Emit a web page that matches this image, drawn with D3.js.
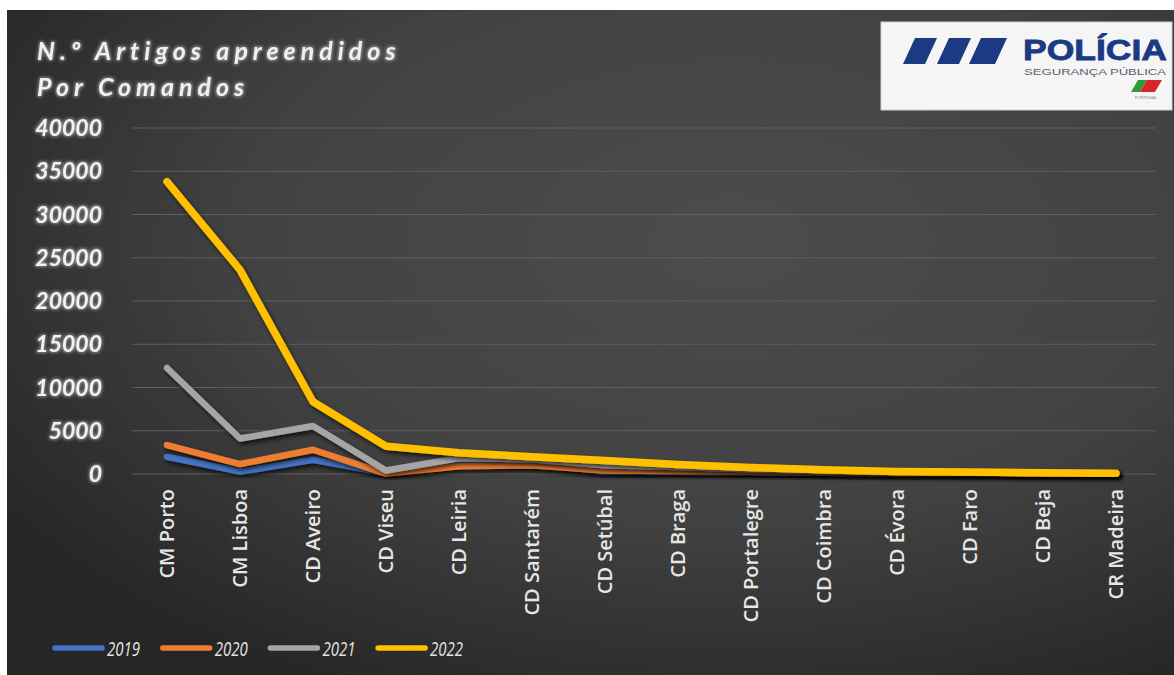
<!DOCTYPE html>
<html>
<head>
<meta charset="utf-8">
<script src="https://cdn.jsdelivr.net/npm/d3@7"></script>
<style>
  html, body { margin: 0; padding: 0; background: #ffffff; }
  svg { display: block; }
</style>
</head>
<body>
<svg id="chart"></svg>
<script>
var categories = ["CM Porto", "CM Lisboa", "CD Aveiro", "CD Viseu", "CD Leiria", "CD Santarém", "CD Setúbal",
  "CD Braga", "CD Portalegre", "CD Coimbra", "CD Évora", "CD Faro", "CD Beja", "CR Madeira"];
var years = ["2019", "2020", "2021", "2022"];
var v2019 = [2000, 270, 1650, 100, 1400, 1300, 250, 250, 200, 150, 100, 80, 50, 30];
var v2020 = [3350, 1150, 2800, 50, 900, 1000, 400, 350, 250, 150, 100, 80, 50, 30];
var v2021 = [12250, 4100, 5550, 400, 1850, 1700, 1000, 800, 550, 350, 200, 150, 100, 50];
var v2022 = [33800, 23600, 8350, 3200, 2450, 2000, 1550, 1100, 750, 480, 280, 220, 150, 100];
var yTicks = [0, 5000, 10000, 15000, 20000, 25000, 30000, 35000, 40000];
var colors = ["#4472c4", "#ed7d31", "#a5a5a5", "#ffc000"];

var W = 1174, H = 675;
var svg = d3.select("#chart").attr("width", W).attr("height", H);
var defs = svg.append("defs");

var bg = defs.append("radialGradient").attr("id", "bg")
  .attr("cx", "62%").attr("cy", "35%").attr("r", "75%");
bg.selectAll("stop")
  .data([{o: "0%", c: "#4c4c4c"}, {o: "55%", c: "#424242"}, {o: "100%", c: "#262626"}])
  .enter().append("stop")
  .attr("offset", function(d) { return d.o; })
  .attr("stop-color", function(d) { return d.c; });

var shadow = defs.append("filter").attr("id", "shadow")
  .attr("x", "-10%").attr("y", "-10%").attr("width", "130%").attr("height", "130%");
shadow.append("feDropShadow").attr("dx", 2).attr("dy", 3).attr("stdDeviation", 2)
  .attr("flood-color", "#000").attr("flood-opacity", 0.7);

var glow = defs.append("filter").attr("id", "glow")
  .attr("x", "-10%").attr("y", "-30%").attr("width", "120%").attr("height", "160%");
glow.append("feMorphology").attr("in", "SourceAlpha").attr("operator", "dilate").attr("radius", 0.6).attr("result", "d");
glow.append("feGaussianBlur").attr("in", "d").attr("stdDeviation", 1.4).attr("result", "b");
glow.append("feFlood").attr("flood-color", "#ffffff").attr("flood-opacity", 0.4);
glow.append("feComposite").attr("in2", "b").attr("operator", "in").attr("result", "g");
var gm = glow.append("feMerge");
gm.append("feMergeNode").attr("in", "g");
gm.append("feMergeNode").attr("in", "SourceGraphic");

svg.append("rect").attr("x", 7).attr("y", 10).attr("width", W - 7).attr("height", H - 10)
  .attr("fill", "url(#bg)");

var x = d3.scalePoint().domain(categories).range([130.5, 1152.5]).padding(0.5);
var y = d3.scaleLinear().domain([0, 40000]).range([474, 128]);

// gridlines
svg.append("g").selectAll("line").data(yTicks).enter().append("line")
  .attr("x1", 132).attr("x2", 1156)
  .attr("y1", function(d) { return y(d); }).attr("y2", function(d) { return y(d); })
  .attr("stroke", "#5e5e5e").attr("stroke-width", 1.2);

// y axis labels
svg.append("g").selectAll("text").data(yTicks).enter().append("text")
  .attr("x", 102).attr("y", function(d) { return y(d) + 8; })
  .attr("text-anchor", "end")
  .attr("font-family", "Lato, sans-serif").attr("font-weight", "bold").attr("font-style", "italic")
  .attr("font-size", 23).attr("fill", "#f2f2f2").attr("filter", "url(#glow)")
  .text(function(d) { return d; });

// x axis labels
svg.append("g").selectAll("text").data(categories).enter().append("text")
  .attr("transform", function(d) { return "translate(" + (x(d) + 7) + ",489) rotate(-90)"; })
  .attr("text-anchor", "end")
  .attr("font-family", "'Open Sans', sans-serif").attr("font-weight", 600)
  .attr("font-size", 20).attr("fill", "#e6e6e6")
  .text(function(d) { return d; });

// lines
var series = [v2019, v2020, v2021, v2022];
var line = d3.line()
  .x(function(d, i) { return x(categories[i]); })
  .y(function(d) { return y(d); });

svg.append("g").selectAll("path").data(series).enter().append("path")
  .attr("d", line)
  .attr("fill", "none")
  .attr("stroke", function(d, i) { return colors[i]; })
  .attr("stroke-width", function(d, i) { return i == 3 ? 7.5 : 6.5; })
  .attr("stroke-linecap", "round").attr("stroke-linejoin", "round")
  .attr("filter", "url(#shadow)");

// title
var title = svg.append("text")
  .attr("font-family", "Lato, sans-serif").attr("font-weight", "bold").attr("font-style", "italic")
  .attr("font-size", 25).attr("letter-spacing", 5).attr("fill", "#f0f0f0").attr("filter", "url(#glow)");
title.append("tspan").attr("x", 37).attr("y", 60).text("N.º Artigos apreendidos");
title.append("tspan").attr("x", 37).attr("y", 96).text("Por Comandos");

// legend
var legend = svg.append("g").selectAll("g").data(years).enter().append("g")
  .attr("transform", function(d, i) { return "translate(" + (55 + i * 107.7) + ",648)"; });
legend.append("line").attr("x1", 0).attr("x2", 47).attr("y1", 0).attr("y2", 0)
  .attr("stroke", function(d, i) { return colors[i]; })
  .attr("stroke-width", 5.5).attr("stroke-linecap", "round");
legend.append("text").attr("x", 52).attr("y", 8)
  .attr("font-family", "'Open Sans', sans-serif").attr("font-style", "italic")
  .attr("font-size", 20).attr("fill", "#e4e4e4")
  .attr("textLength", 33).attr("lengthAdjust", "spacingAndGlyphs")
  .text(function(d) { return d; });

// logo
var logo = svg.append("g");
logo.append("rect").attr("x", 881).attr("y", 22).attr("width", 291).attr("height", 88)
  .attr("fill", "#f5f5f5").attr("stroke", "#d0d0d0");
var bars = [[903, 22], [937, 22], [969, 26]];
logo.selectAll("path.bar").data(bars).enter().append("path").attr("class", "bar")
  .attr("d", function(d) {
    return "M" + d[0] + ",64 L" + (d[0] + 12) + ",38 L" + (d[0] + 12 + d[1]) + ",38 L" + (d[0] + d[1]) + ",64 Z";
  })
  .attr("fill", "#1c3a84");
logo.append("text").attr("x", 1023).attr("y", 60)
  .attr("font-family", "'Liberation Sans', Arial, sans-serif").attr("font-weight", "bold")
  .attr("font-size", 29).attr("fill", "#1c3a84").attr("stroke", "#1c3a84").attr("stroke-width", 0.8)
  .attr("textLength", 144).attr("lengthAdjust", "spacingAndGlyphs")
  .text("POLÍCIA");
logo.append("text").attr("x", 1024).attr("y", 75)
  .attr("font-family", "'Liberation Sans', Arial, sans-serif")
  .attr("font-size", 9.5).attr("fill", "#5a6070")
  .attr("textLength", 142).attr("lengthAdjust", "spacingAndGlyphs")
  .text("SEGURANÇA PÚBLICA");
logo.append("path").attr("d", "M1131,92 L1138,80 L1147,80 L1140,92 Z").attr("fill", "#2e9a3c");
logo.append("path").attr("d", "M1140,92 L1147,80 L1162,80 L1155,92 Z").attr("fill", "#d8262b");
logo.append("text").attr("x", 1146).attr("y", 99).attr("text-anchor", "middle")
  .attr("font-family", "'Liberation Sans', Arial, sans-serif")
  .attr("font-size", 4).attr("fill", "#777").text("PORTUGAL");
</script>
</body>
</html>
